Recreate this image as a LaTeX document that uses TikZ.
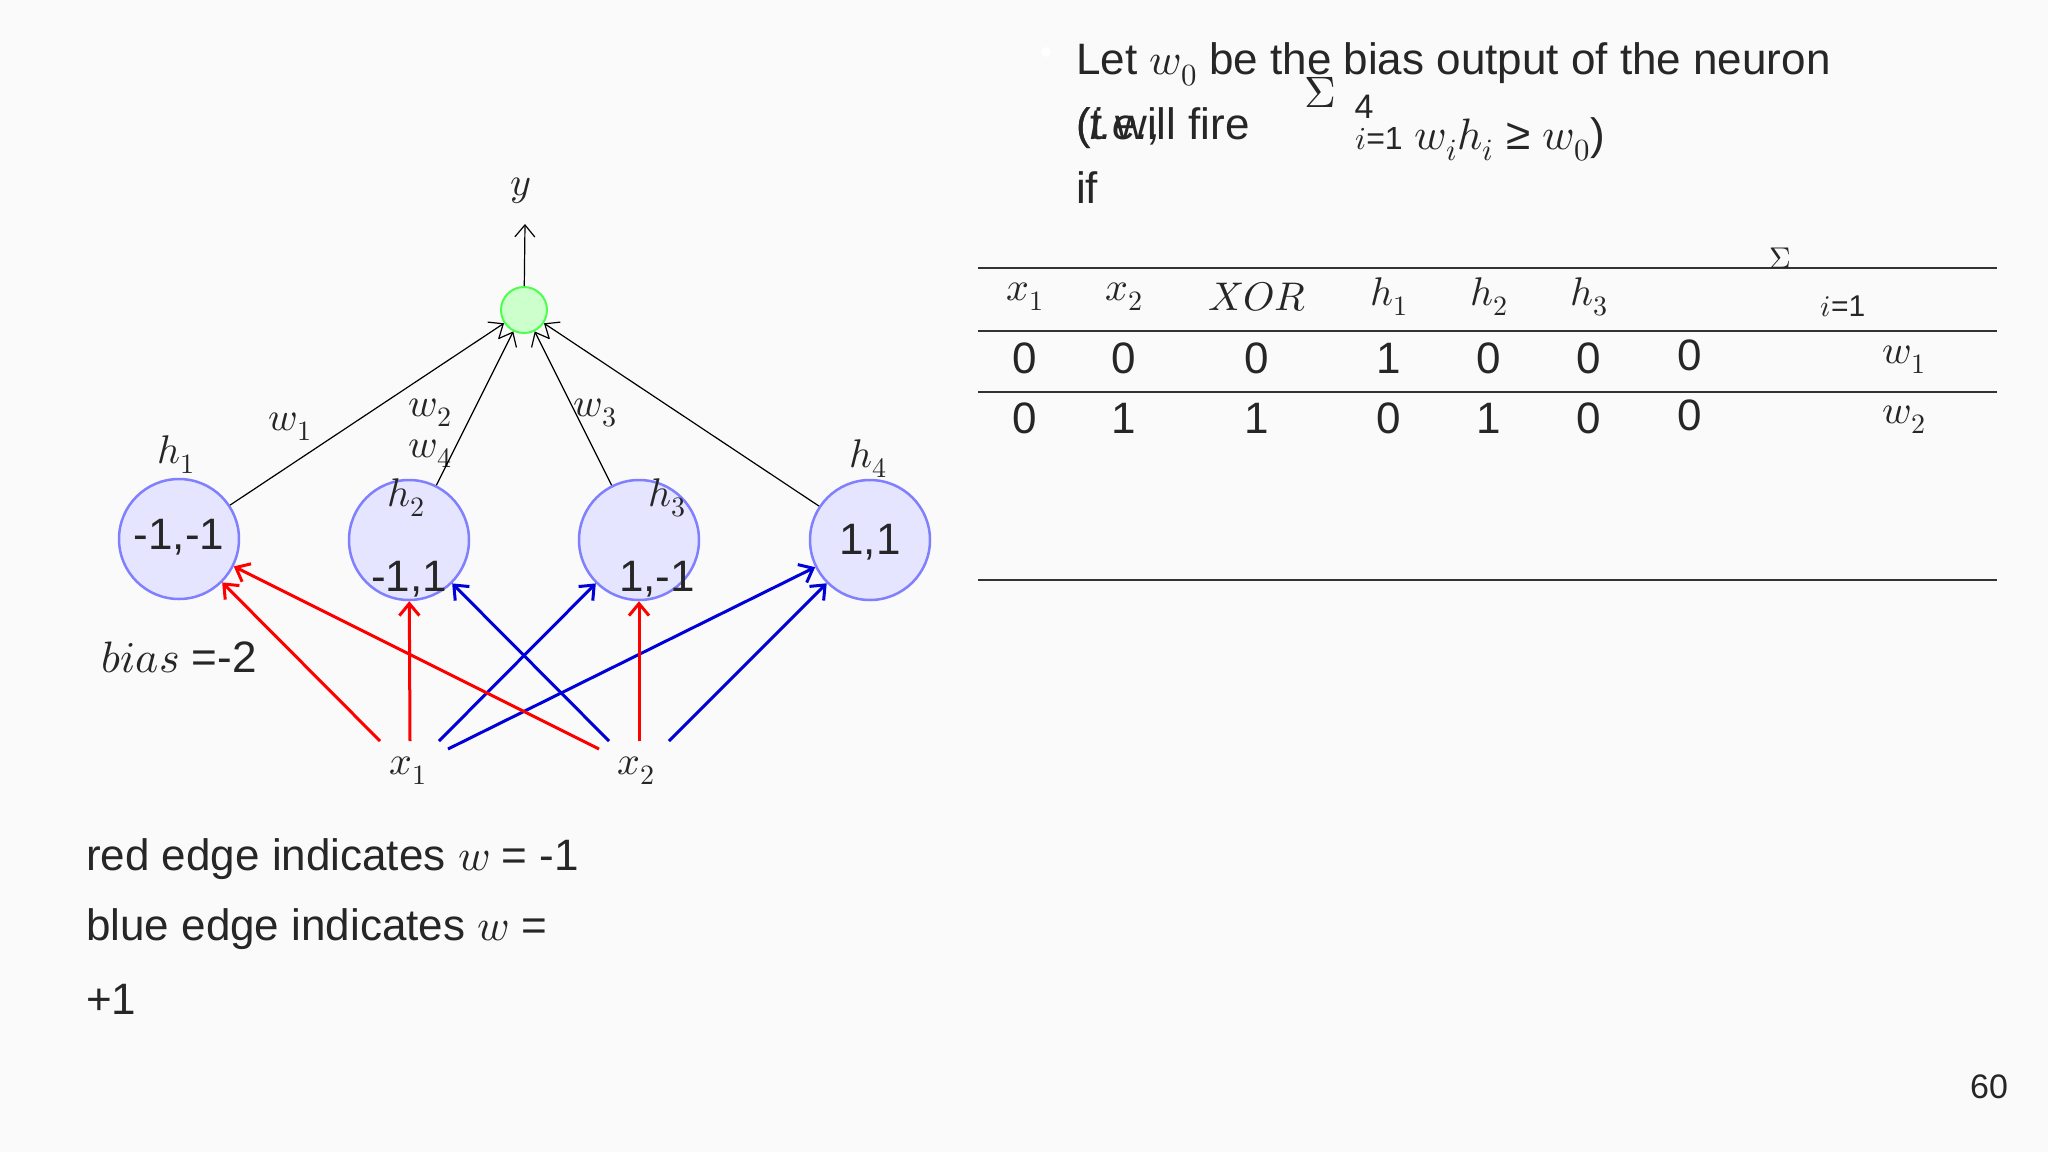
\documentclass[tikz,border=0pt]{standalone}
\usepackage{fontspec}
\setmainfont{Liberation Sans}
\usepackage{unicode-math}
\setmathfont{Latin Modern Math}
\usetikzlibrary{arrows.meta}
\begin{document}
\begin{tikzpicture}[x=1pt,y=-1pt,
  txt/.style={font=\fontsize{44}{52}\selectfont, text=black!85, inner sep=0},
  lbl/.style={font=\fontsize{40}{48}\selectfont, text=black!85, inner sep=0},
  hid/.style={circle, draw=blue!50, fill=blue!10, line width=2.5, minimum size=120, inner sep=0},
  outn/.style={circle, draw=green!70, fill=green!20, line width=2, minimum size=46, inner sep=0},
  redge/.style={red, line width=3, -{Straight Barb[length=12,width=20]}},
  bedge/.style={blue!85!black, line width=3, -{Straight Barb[length=12,width=20]}},
  kedge/.style={black, line width=1.2, -{Straight Barb[length=12,width=20]}},
  rule/.style={black!80, line width=1.5}]
\fill[black!2] (0,0) rectangle (2048,1152);
\useasboundingbox (0,0) rectangle (2048,1152);
% network
\node[hid] (h1) at (179,539) {};
\node[hid] (h2) at (409,540) {};
\node[hid] (h3) at (639,540) {};
\node[hid] (h4) at (870,540) {};
\node[outn] (o) at (524,310) {};
\node[lbl] (y) at (521,191) {$y$};
\coordinate (ytop) at (525,224);
\draw[kedge] (o) -- (ytop);
\node[txt] (t1) at (179,537) {-1,-1};
\node[txt] (t2) at (409,579) {-1,1};
\node[txt] (t3) at (657,579) {1,-1};
\node[txt] (t4) at (870,542) {1,1};
\node[lbl] (lh1) at (176,455) {$h_1$};
\node[lbl] (lh2) at (406,498) {$h_2$};
\node[lbl] (lh3) at (667,498) {$h_3$};
\node[lbl] (lh4) at (868,459) {$h_4$};
\node[lbl] (w1) at (290,427) {$w_1$};
\node[lbl] (w2) at (430,413) {$w_2$};
\node[lbl] (w4) at (430,454) {$w_4$};
\node[lbl] (w3) at (595,413) {$w_3$};
\draw[kedge] (h1) -- (o);
\draw[kedge] (h2) -- (o);
\draw[kedge] (h3) -- (o);
\draw[kedge] (h4) -- (o);
\node[lbl] (x1) at (408,771) {$x_1$};
\node[lbl] (x2) at (636,771) {$x_2$};
\coordinate (a1) at (380,741);
\coordinate (a2) at (410,741);
\coordinate (a3) at (439,741);
\coordinate (a4) at (448,749);
\coordinate (b1) at (599,749);
\coordinate (b2) at (609,741);
\coordinate (b3) at (639,741);
\coordinate (b4) at (669,741);
\draw[redge] (a1) -- (h1);
\draw[redge] (a2) -- (h2);
\draw[bedge] (a3) -- (h3);
\draw[bedge] (a4) -- (h4);
\draw[redge] (b1) -- (h1);
\draw[bedge] (b2) -- (h2);
\draw[redge] (b3) -- (h3);
\draw[bedge] (b4) -- (h4);
\node[txt] (bias) at (179,657) {$bias$ =-2};
\node[txt, anchor=west] (n1) at (86,859) {red edge indicates $w$ = -1};
\node[txt, anchor=west] (n2) at (86,929) {blue edge indicates $w$ =};
\node[txt, anchor=west] (n3) at (86,999) {+1};
\node[txt, font=\fontsize{34}{40}\selectfont] (pg) at (1989,1087) {60};
% text top right
\fill[white] (1046,52) circle (5);
\node[txt, anchor=west] (l1) at (1076,64) {Let $w_0$ be the bias output of the neuron};
\node[txt, anchor=west] (l2a) at (1076,128) {(\textit{i.e.,}};
\node[txt, anchor=west] (l2b) at (1076,128) {(t will fire};
\node[txt, anchor=west] (l3) at (1076,188) {if};
\node[txt] (sig) at (1320,92) {$\Sigma$};
\node[txt, font=\fontsize{34}{40}\selectfont] (four) at (1364,107) {4};
\node[txt, anchor=west] (l2c) at (1355,139) {{\fontsize{32}{36}\selectfont $i$=1} $w_ih_i$ ≥ $w_0$)};
% table
\coordinate (r0l) at (978,268); \coordinate (r0r) at (1997,268);
\coordinate (r1l) at (978,331); \coordinate (r1r) at (1997,331);
\coordinate (r2l) at (978,392); \coordinate (r2r) at (1997,392);
\coordinate (r3l) at (978,580); \coordinate (r3r) at (1997,580);
\draw[rule] (r0l) -- (r0r);
\draw[rule] (r1l) -- (r1r);
\draw[rule] (r2l) -- (r2r);
\draw[rule] (r3l) -- (r3r);
\node[lbl] (c1) at (1025,297) {$x_1$};
\node[lbl] (c2) at (1124,297) {$x_2$};
\node[lbl] (c3) at (1257,297) {$XOR$};
\node[lbl] (c4) at (1389,297) {$h_1$};
\node[lbl] (c5) at (1489,297) {$h_2$};
\node[lbl] (c6) at (1589,297) {$h_3$};
\node[txt, font=\fontsize{30}{36}\selectfont] (c7) at (1843,306) {$i$=1};
\node[txt, font=\fontsize{30}{36}\selectfont] (c8) at (1780,258) {$\Sigma$};
\foreach \v [count=\i] in {0,0,0,1,0,0} {}
\node[txt] at (1025,358) {0}; \node[txt] at (1124,358) {0}; \node[txt] at (1257,358) {0};
\node[txt] at (1389,358) {1}; \node[txt] at (1489,358) {0}; \node[txt] at (1589,358) {0};
\node[txt] at (1690,355) {0}; \node[lbl] at (1904,360) {$w_1$};
\node[txt] at (1025,418) {0}; \node[txt] at (1124,418) {1}; \node[txt] at (1257,418) {1};
\node[txt] at (1389,418) {0}; \node[txt] at (1489,418) {1}; \node[txt] at (1589,418) {0};
\node[txt] at (1690,415) {0}; \node[lbl] at (1904,420) {$w_2$};
\end{tikzpicture}
\end{document}
